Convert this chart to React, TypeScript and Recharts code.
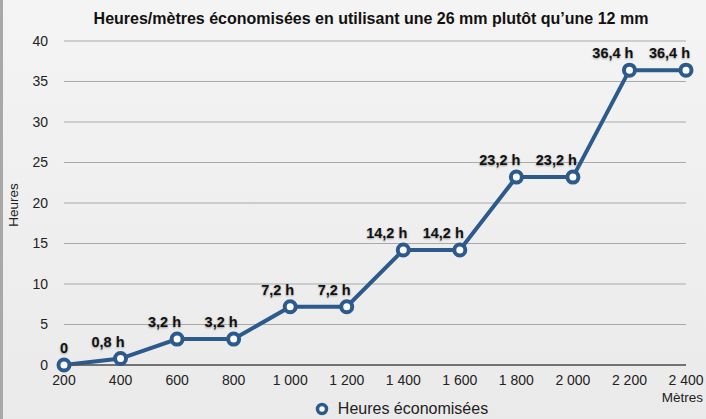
import React from 'react';
import { LineChart, Line, XAxis, YAxis, CartesianGrid, Legend, LabelList } from 'recharts';

const metres = ['200', '400', '600', '800', '1 000', '1 200', '1 400', '1 600', '1 800', '2 000', '2 200', '2 400'];
const heures = [0, 0.8, 3.2, 3.2, 7.2, 7.2, 14.2, 14.2, 23.2, 23.2, 36.4, 36.4];
const pointLabels = ['0', '0,8 h', '3,2 h', '3,2 h', '7,2 h', '7,2 h', '14,2 h', '14,2 h', '23,2 h', '23,2 h', '36,4 h', '36,4 h'];
const yTicks = [0, 5, 10, 15, 20, 25, 30, 35, 40];

const TITLE = 'Heures/mètres économisées en utilisant une 26 mm plutôt qu’une 12 mm';
const SERIES = 'Heures économisées';
const BLUE = '#2c5a8d';
const FONT = '"Liberation Sans", Arial, sans-serif';

const data = metres.map((m, i) => ({ m, h: heures[i] }));

const PointLabel = (props: any) => {
  const { x, y, index } = props;
  return (
    <text
      x={x + 4}
      y={y - 12}
      textAnchor="end"
      fontFamily={FONT}
      fontSize={14.5}
      fontWeight="bold"
      fill="#111"
      style={{ textShadow: '0 1px 2px rgba(0,0,0,0.35)' }}
    >
      {pointLabels[index]}
    </text>
  );
};

const LegendContent = () => (
  <div style={{ display: 'flex', alignItems: 'center', justifyContent: 'center', fontFamily: FONT, fontSize: 16, color: '#222' }}>
    <svg width={16} height={16} style={{ marginRight: 8 }}>
      <circle cx={8} cy={8} r={4.5} fill="#fff" stroke={BLUE} strokeWidth={3.5} />
    </svg>
    <span>{SERIES}</span>
  </div>
);

export default function App() {
  return (
    <div
      style={{
        position: 'absolute',
        left: 0,
        top: 0,
        width: 706,
        height: 419,
        background: 'linear-gradient(to right, #a8a8a8 0 3px, transparent 3px), linear-gradient(#f4f4f4, #eaeaea)',
      }}
    >
      <div
        style={{
          position: 'absolute',
          top: 10,
          left: 0,
          width: 742,
          textAlign: 'center',
          fontFamily: FONT,
          fontWeight: 'bold',
          fontSize: 16,
          color: '#111',
        }}
      >
        {TITLE}
      </div>
      <LineChart width={706} height={419} data={data} margin={{ top: 41, right: 20, left: 0, bottom: 24 }}>
        <CartesianGrid vertical={false} stroke="#a9a9a9" strokeWidth={1} />
        <XAxis
          dataKey="m"
          height={30}
          tickSize={0}
          tickMargin={10}
          axisLine={{ stroke: '#555', strokeWidth: 1.5 }}
          tickLine={false}
          tick={{ fontFamily: FONT, fontSize: 14, fill: '#222' }}
          interval={0}
          label={{
            content: () => (
              <text x={703} y={402} textAnchor="end" fontFamily={FONT} fontSize={13.5} fill="#222">
                Mètres
              </text>
            ),
          }}
        />
        <YAxis
          width={64}
          domain={[0, 40]}
          ticks={yTicks}
          tickSize={0}
          tickMargin={16}
          axisLine={false}
          tickLine={false}
          tick={{ fontFamily: FONT, fontSize: 14, fill: '#222' }}
          label={{
            content: () => (
              <text x={13} y={205} transform="rotate(-90 13 205)" textAnchor="middle" dominantBaseline="central" fontFamily={FONT} fontSize={13.5} fill="#222">
                Heures
              </text>
            ),
          }}
        />
        <Legend
          layout="horizontal"
          verticalAlign="middle"
          align="center"
          wrapperStyle={{ top: 400, left: 48, width: 706 }}
          content={LegendContent}
        />
        <Line
          type="linear"
          dataKey="h"
          name={SERIES}
          stroke={BLUE}
          strokeWidth={4}
          dot={{ r: 5.5, fill: '#fff', stroke: BLUE, strokeWidth: 4 }}
          activeDot={false}
          isAnimationActive={false}
        >
          <LabelList dataKey="h" content={PointLabel} />
        </Line>
      </LineChart>
    </div>
  );
}
